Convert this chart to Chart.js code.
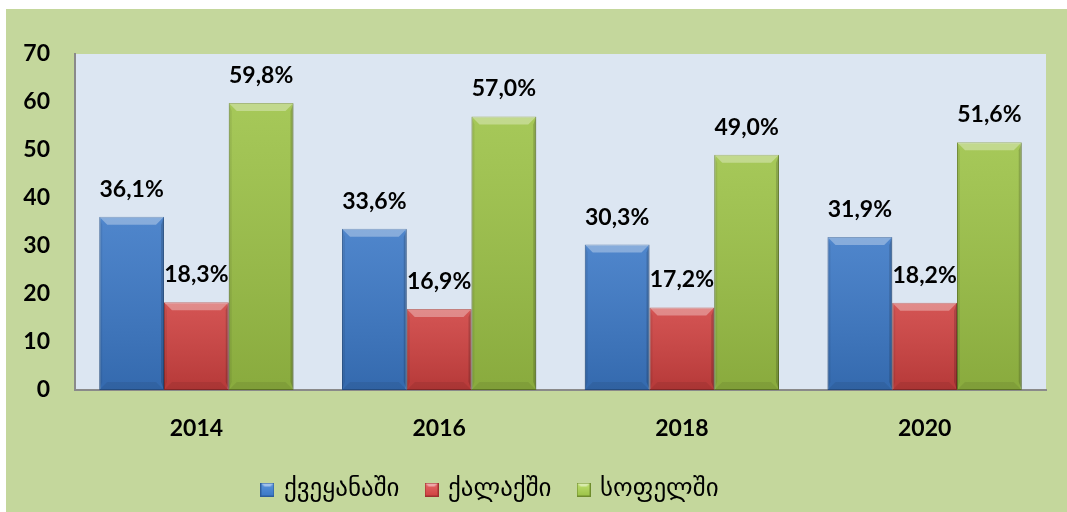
<!DOCTYPE html>
<html>
<head>
<meta charset="utf-8">
<script src="https://cdn.jsdelivr.net/npm/chart.js@4"></script>
<style>
  html, body { margin: 0; padding: 0; background: #fff; }
</style>
</head>
<body>
<canvas id="chart" width="1067" height="512"></canvas>
<script>
// values (percent)
const years = ['2014', '2016', '2018', '2020'];
const countryValues = [36.1, 33.6, 30.3, 31.9];
const cityValues = [18.3, 16.9, 17.2, 18.2];
const villageValues = [59.8, 57.0, 49.0, 51.6];
const seriesNames = ['ქვეყანაში', 'ქალაქში', 'სოფელში'];
const yTickValues = [0, 10, 20, 30, 40, 50, 60, 70];

const NUM_FONT = { family: 'Lato', weight: 'bold', size: 23 };

// fill + border per series
const palette = [
  { fill: '#3b78c6', border: '#2c5d9c', light: '#5a95dc' },
  { fill: '#cf4140', border: '#9e2f2e', light: '#e46a68' },
  { fill: '#9cc246', border: '#6f8c2c', light: '#bfe070' }
];

// small bevelled squares for the legend
function makeSwatch(c) {
  const cv = document.createElement('canvas');
  cv.width = 14; cv.height = 14;
  const g = cv.getContext('2d');
  const grad = g.createLinearGradient(0, 0, 0, 14);
  grad.addColorStop(0, c.light);
  grad.addColorStop(1, c.fill);
  g.fillStyle = grad;
  g.fillRect(0, 0, 14, 14);
  g.fillStyle = 'rgba(255,255,255,0.45)';
  g.beginPath(); g.moveTo(0, 0); g.lineTo(14, 0); g.lineTo(10, 4); g.lineTo(4, 4); g.closePath(); g.fill();
  g.strokeStyle = c.border; g.lineWidth = 1;
  g.strokeRect(0.5, 0.5, 13, 13);
  return cv;
}
const swatches = palette.map(makeSwatch);

const fmt = v => v.toFixed(1).replace('.', ',') + '%';

// background: white margin, olive panel, light blue plot area
const backgroundPlugin = {
  id: 'bg',
  beforeDraw(chart) {
    const { ctx, chartArea: a, width, height } = chart;
    ctx.save();
    ctx.fillStyle = '#ffffff';
    ctx.fillRect(0, 0, width, height);
    ctx.fillStyle = '#c4d79c';
    ctx.fillRect(6, 9, width - 6, height - 9);
    ctx.fillStyle = '#dce6f2';
    ctx.fillRect(a.left, a.top, a.right - a.left, a.bottom - a.top);
    ctx.restore();
  }
};

// bevel shading on top of each bar, using the bar elements' own geometry
const bevelPlugin = {
  id: 'bevel',
  afterDatasetsDraw(chart) {
    const ctx = chart.ctx;
    chart.data.datasets.forEach((ds, di) => {
      const meta = chart.getDatasetMeta(di);
      meta.data.forEach(bar => {
        const { x, y, base, width } = bar.getProps(['x', 'y', 'base', 'width'], true);
        const l = x - width / 2, r = x + width / 2, t = y, b = base;
        const bv = 8;
        ctx.save();
        const sh = ctx.createLinearGradient(0, t, 0, b);
        sh.addColorStop(0, 'rgba(255,255,255,0.10)');
        sh.addColorStop(1, 'rgba(0,0,0,0.12)');
        ctx.fillStyle = sh;
        ctx.fillRect(l, t, width, b - t);
        // top bevel
        ctx.fillStyle = 'rgba(255,255,255,0.32)';
        ctx.beginPath(); ctx.moveTo(l, t); ctx.lineTo(r, t); ctx.lineTo(r - bv, t + bv); ctx.lineTo(l + bv, t + bv); ctx.closePath(); ctx.fill();
        // left edge
        ctx.fillStyle = 'rgba(0,0,0,0.07)';
        ctx.beginPath(); ctx.moveTo(l, t); ctx.lineTo(l + 3, t + bv); ctx.lineTo(l + 3, b - bv); ctx.lineTo(l, b); ctx.closePath(); ctx.fill();
        // right edge
        ctx.fillStyle = 'rgba(0,0,0,0.16)';
        ctx.beginPath(); ctx.moveTo(r, t); ctx.lineTo(r - 3, t + bv); ctx.lineTo(r - 3, b - bv); ctx.lineTo(r, b); ctx.closePath(); ctx.fill();
        // bottom edge
        ctx.fillStyle = 'rgba(0,0,0,0.07)';
        ctx.beginPath(); ctx.moveTo(l, b); ctx.lineTo(l + bv, b - bv); ctx.lineTo(r - bv, b - bv); ctx.lineTo(r, b); ctx.closePath(); ctx.fill();
        ctx.restore();
      });
    });
  }
};

// value labels above the bars
const valueLabelPlugin = {
  id: 'valueLabels',
  afterDatasetsDraw(chart) {
    const ctx = chart.ctx;
    ctx.save();
    ctx.font = `${NUM_FONT.weight} ${NUM_FONT.size}px ${NUM_FONT.family}`;
    ctx.fillStyle = '#000';
    ctx.textAlign = 'center';
    ctx.textBaseline = 'alphabetic';
    chart.data.datasets.forEach((ds, di) => {
      chart.getDatasetMeta(di).data.forEach((bar, i) => {
        ctx.fillText(fmt(ds.data[i]), bar.x, bar.y - 20);
      });
    });
    ctx.restore();
  }
};

// nudge the legend to the left, as in the reference
const legendShiftPlugin = {
  id: 'legendShift',
  afterLayout(chart) {
    const lg = chart.legend;
    if (!lg) return;
    lg.left -= 32;
    lg.right -= 32;
  }
};

const seriesValues = [countryValues, cityValues, villageValues];
const datasets = seriesNames.map((name, i) => ({
  label: name,
  data: seriesValues[i],
  backgroundColor: palette[i].fill,
  borderColor: palette[i].border,
  borderWidth: 1,
  borderSkipped: false,
  categoryPercentage: 0.8,
  barPercentage: 1.0
}));

new Chart(document.getElementById('chart').getContext('2d'), {
  type: 'bar',
  data: { labels: years, datasets },
  options: {
    responsive: false,
    devicePixelRatio: 1,
    animation: false,
    layout: { padding: { top: 54, right: 21, left: 0, bottom: 0 } },
    scales: {
      x: {
        grid: { display: false, drawTicks: false },
        border: { display: true, color: '#8a8a8a', width: 2 },
        ticks: { color: '#000', font: NUM_FONT, padding: 25 },
        afterFit: s => { s.height = 59; }
      },
      y: {
        min: 0, max: 70,
        afterBuildTicks: s => { s.ticks = yTickValues.map(v => ({ value: v })); },
        grid: { display: false, drawTicks: false },
        border: { display: true, color: '#8a8a8a', width: 2 },
        ticks: { color: '#000', font: NUM_FONT, padding: 25 },
        afterFit: s => { s.width = 75; }
      }
    },
    plugins: {
      tooltip: { enabled: false },
      legend: {
        position: 'bottom',
        labels: {
          usePointStyle: true,
          pointStyleWidth: 8,
          padding: 28,
          color: '#000',
          font: { family: 'DejaVu Sans', size: 25 },
          generateLabels: chart => chart.data.datasets.map((ds, i) => ({
            text: ds.label,
            pointStyle: swatches[i],
            fillStyle: ds.backgroundColor,
            strokeStyle: ds.borderColor,
            lineWidth: 0,
            hidden: false,
            datasetIndex: i,
            fontColor: '#000'
          }))
        }
      }
    }
  },
  plugins: [backgroundPlugin, bevelPlugin, valueLabelPlugin, legendShiftPlugin]
});
</script>
</body>
</html>
